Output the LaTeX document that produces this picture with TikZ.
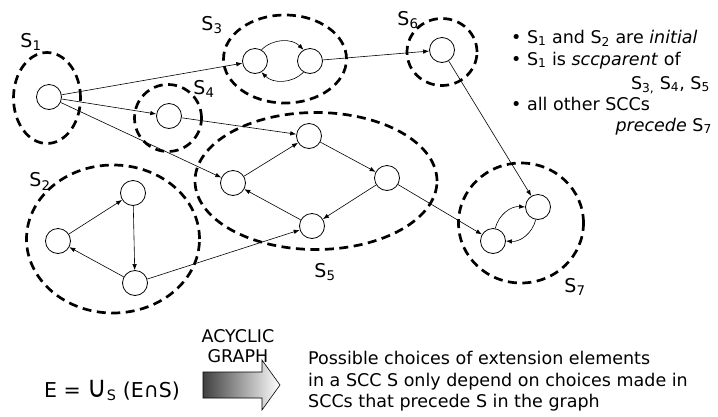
\documentclass[tikz,border=0pt]{standalone}
\usepackage{fontspec}
\setmainfont{DejaVu Sans}
\usetikzlibrary{arrows.meta,shapes.geometric}

\newcommand{\Sc}[1]{S\textsubscript{#1}}

\tikzset{
  state/.style={circle, draw, line width=0.8pt, minimum size=25pt, inner sep=0pt},
  scc/.style={ellipse, draw, line width=2.7pt, dash pattern=on 9pt off 5.5pt, inner sep=0pt, outer sep=0pt},
  edge/.style={line width=0.6pt, -{Latex[length=6pt,width=4.5pt]}},
  lbl/.style={font=\fontsize{19}{22}\selectfont, inner sep=0pt},
  note/.style={font=\fontsize{17.5}{21}\selectfont, inner sep=0pt},
}

\begin{document}
\begin{tikzpicture}[x=1pt, y=-1pt]
  \useasboundingbox (0,0) rectangle (718,416);

  % strongly connected components (dashed outlines)
  \node[scc, minimum width=67pt,  minimum height=91pt]  (c1) at (47,98)   {};
  \node[scc, minimum width=173pt, minimum height=148pt] (c2) at (113,239) {};
  \node[scc, minimum width=123pt, minimum height=88pt]  (c3) at (285,59)  {};
  \node[scc, minimum width=67pt,  minimum height=67pt]  (c4) at (168,118) {};
  \node[scc, minimum width=242pt, minimum height=137pt] (c5) at (316,181) {};
  \node[scc, minimum width=70pt,  minimum height=67pt]  (c6) at (442,52)  {};
  \node[scc, minimum width=125pt, minimum height=120pt] (c7) at (521,223) {};

  % component labels
  \node[lbl] (l1) at (31,42)  {\Sc{1}};
  \node[lbl] (l2) at (40,181) {\Sc{2}};
  \node[lbl] (l3) at (212,25) {\Sc{3}};
  \node[lbl] (l4) at (204,89) {\Sc{4}};
  \node[lbl] (l5) at (325,272) {\Sc{5}};
  \node[lbl] (l6) at (408,20) {\Sc{6}};
  \node[lbl] (l7) at (575,287) {\Sc{7}};

  % states
  \node[state] (a1) at (49,97)   {};
  \node[state] (a2t) at (133,193) {};
  \node[state] (a2l) at (58,241)  {};
  \node[state] (a2b) at (135,283) {};
  \node[state] (a3l) at (255,61)  {};
  \node[state] (a3r) at (310,61)  {};
  \node[state] (a4) at (169,116)  {};
  \node[state] (a5t) at (309,136) {};
  \node[state] (a5l) at (233,183) {};
  \node[state] (a5r) at (387,178) {};
  \node[state] (a5b) at (312,226) {};
  \node[state] (a6) at (442,50)   {};
  \node[state] (a7l) at (493,241) {};
  \node[state] (a7r) at (538,207) {};

  % transitions
  \draw[edge] (a1) -- (a3l);
  \draw[edge] (a1) -- (a4);
  \draw[edge] (a1) -- (a5l);
  \draw[edge] (a3l.60) to[bend left=45] (a3r.120);
  \draw[edge] (a3r.-120) to[bend left=45] (a3l.-60);
  \draw[edge] (a3r) -- (a6);
  \draw[edge] (a6) -- (a7r);
  \draw[edge] (a4) -- (a5t);
  \draw[edge] (a5t) -- (a5r);
  \draw[edge] (a5r) -- (a5b);
  \draw[edge] (a5b) -- (a5l);
  \draw[edge] (a5l) -- (a5t);
  \draw[edge] (a5r) -- (a7l);
  \draw[edge] (a2l) -- (a2t);
  \draw[edge] (a2t) -- (a2b);
  \draw[edge] (a2b) -- (a2l);
  \draw[edge] (a2b) -- (a5b);
  \draw[edge] (a7l.80) to[bend left=40] (a7r.180);
  \draw[edge] (a7r.-100) to[bend left=40] (a7l.0);

  % remarks
  \node[note, anchor=base west] (n1) at (511,43)  {• \Sc{1} and \Sc{2} are \textit{initial}};
  \node[note, anchor=base west] (n2) at (511,65)  {• \Sc{1} is \textit{sccparent} of};
  \node[note, anchor=base east] (n3) at (710,89)  {S\textsubscript{3,} \Sc{4}, \Sc{5}};
  \node[note, anchor=base west] (n4) at (511,110) {• all other SCCs};
  \node[note, anchor=base east] (n5) at (712,131) {\textit{precede} \Sc{7}};

  % decomposition statement
  \node[note, anchor=base west, font=\fontsize{20.5}{24}\selectfont] (eq) at (44,397)
    {E = \scalebox{1.3}[1.45]{∪}\textsubscript{S} (E∩S)};
  \node[note, anchor=base] (ac1) at (238,342) {ACYCLIC};
  \node[note, anchor=base] (ac2) at (238,362) {GRAPH};
  \draw[line width=0.6pt, left color=black!75, right color=white]
    (203,372) -- (262,372) -- (262,360) -- (280,385) -- (262,410)
    -- (262,398) -- (203,398) -- cycle;
  \node[note, anchor=base west] (t1) at (308,364) {Possible choices of extension elements};
  \node[note, anchor=base west] (t2) at (308,386) {in a SCC S only depend on choices made in};
  \node[note, anchor=base west] (t3) at (308,407) {SCCs that precede S in the graph};
\end{tikzpicture}
\end{document}
